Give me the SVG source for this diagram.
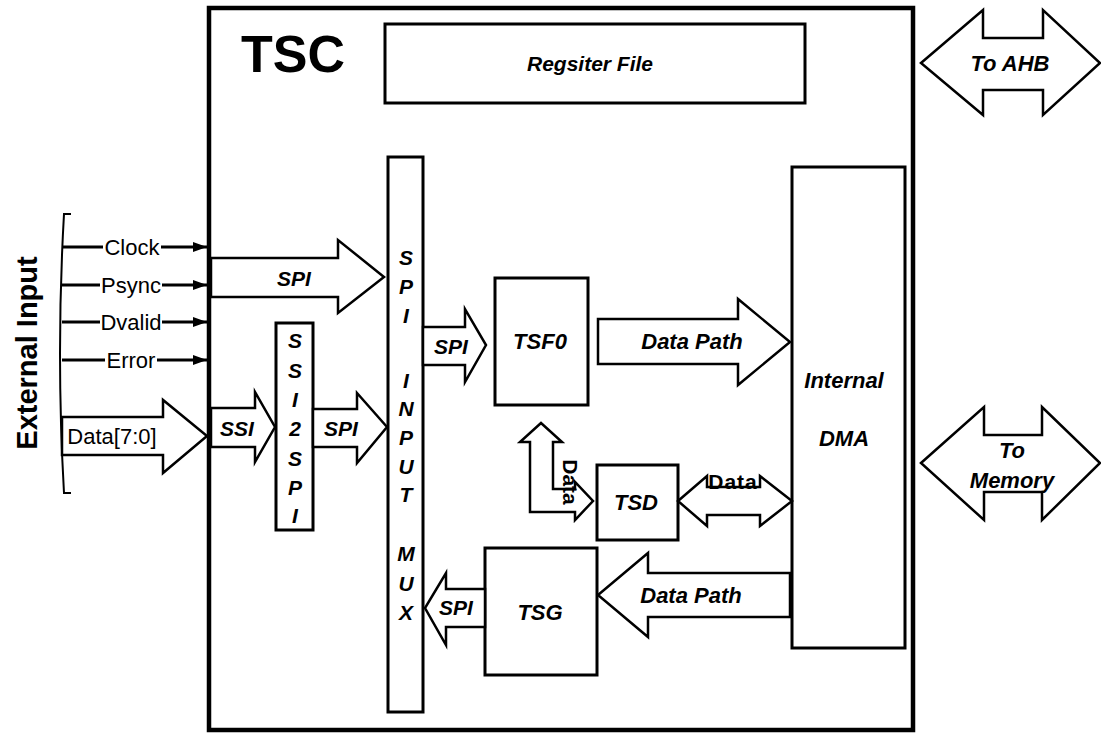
<svg xmlns="http://www.w3.org/2000/svg" width="1101" height="733" viewBox="0 0 1101 733">
<defs>
<style>
.box{fill:#fff;stroke:#000;stroke-width:3}
.arr{fill:#fff;stroke:#000;stroke-width:2.5;stroke-linejoin:miter}
.wire{stroke:#000;stroke-width:3;fill:none}
.t{font-family:"Liberation Sans",Arial,sans-serif;font-weight:bold;font-style:italic;font-size:21px;text-anchor:middle;dominant-baseline:central;fill:#000}
.s{font-family:"Liberation Sans",Arial,sans-serif;font-size:22px;text-anchor:middle;dominant-baseline:central;fill:#000}
.b{font-family:"Liberation Sans",Arial,sans-serif;font-weight:bold;font-size:21px;text-anchor:middle;dominant-baseline:central;fill:#000}
</style>
<marker id="ah" markerUnits="userSpaceOnUse" markerWidth="14" markerHeight="10" refX="14" refY="5" orient="auto">
<path d="M0,0 L14,5 L0,10 Z" fill="#000"/>
</marker>
</defs>
<rect width="1101" height="733" fill="#fff"/>

<g id="tsc">
<rect x="209" y="8" width="704" height="722" fill="none" stroke="#000" stroke-width="4.5"/>
<text x="293" y="54" style="font-family:'Liberation Sans',Arial,sans-serif;font-weight:bold;font-size:52px;text-anchor:middle;dominant-baseline:central">TSC</text>
</g>

<g id="register-file">
<rect class="box" x="385" y="24" width="420" height="79"/>
<text class="t" x="590" y="63">Regsiter File</text>
</g>

<g id="external-input">
<path d="M71,214 L64,214 Q56,353 64,493 L71,493" fill="none" stroke="#000" stroke-width="2"/>
<text transform="translate(37,353) rotate(-90)" style="font-family:'Liberation Sans',Arial,sans-serif;font-weight:bold;font-size:29px;text-anchor:middle">External Input</text>
<line class="wire" x1="62" y1="247" x2="103" y2="247"/>
<text class="s" x="132" y="247">Clock</text>
<line class="wire" x1="161" y1="247" x2="207" y2="247" marker-end="url(#ah)"/>
<line class="wire" x1="62" y1="285" x2="100" y2="285"/>
<text class="s" x="131" y="285">Psync</text>
<line class="wire" x1="162" y1="285" x2="207" y2="285" marker-end="url(#ah)"/>
<line class="wire" x1="62" y1="322" x2="100" y2="322"/>
<text class="s" x="131" y="322">Dvalid</text>
<line class="wire" x1="162" y1="322" x2="207" y2="322" marker-end="url(#ah)"/>
<line class="wire" x1="62" y1="360" x2="105" y2="360"/>
<text class="s" x="131" y="360">Error</text>
<line class="wire" x1="157" y1="360" x2="207" y2="360" marker-end="url(#ah)"/>
</g>

<g id="ssi2spi">
<rect class="box" x="276" y="323" width="37" height="207"/>
<text class="t" x="295" y="340">S</text>
<text class="t" x="295" y="370">S</text>
<text class="t" x="295" y="399">I</text>
<text class="t" x="295" y="428">2</text>
<text class="t" x="295" y="458">S</text>
<text class="t" x="295" y="487">P</text>
<text class="t" x="295" y="515">I</text>
</g>

<g id="spi-input-mux">
<rect class="box" x="388" y="157" width="35" height="555"/>
<text class="t" x="406" y="257">S</text>
<text class="t" x="406" y="286">P</text>
<text class="t" x="406" y="315">I</text>
<text class="t" x="406" y="380">I</text>
<text class="t" x="406" y="408">N</text>
<text class="t" x="406" y="437">P</text>
<text class="t" x="406" y="466">U</text>
<text class="t" x="406" y="494">T</text>
<text class="t" x="406" y="553">M</text>
<text class="t" x="406" y="583">U</text>
<text class="t" x="406" y="612">X</text>
</g>

<g id="tsf0">
<rect class="box" x="495" y="278" width="93" height="127"/>
<text class="t" x="540" y="341" style="font-size:22px">TSF0</text>
</g>

<g id="tsd">
<rect class="box" x="597" y="465" width="81" height="75"/>
<text class="t" x="636" y="502" style="font-size:22px">TSD</text>
</g>

<g id="tsg">
<rect class="box" x="485" y="548" width="112" height="127"/>
<text class="t" x="540" y="612" style="font-size:22px">TSG</text>
</g>

<g id="internal-dma">
<rect class="box" x="792" y="167" width="113" height="481"/>
<text class="t" x="844" y="380" style="font-size:22px">Internal</text>
<text class="t" x="844" y="438" style="font-size:22px">DMA</text>
</g>

<g id="connectors">
<polygon class="arr" points="211,258 338,258 338,240 384,277 338,313 338,297 211,297"/>
<text class="t" x="294" y="278">SPI</text>

<polygon class="arr" points="62,417 163,417 163,400 207,436 163,473 163,455 62,455"/>
<text class="s" x="112" y="436">Data[7:0]</text>

<polygon class="arr" points="211,408 255,408 255,392 275,427 255,462 255,447 211,447"/>
<text class="t" x="237" y="428">SSI</text>

<polygon class="arr" points="313,409 357,409 357,393 387,427 357,463 357,447 313,447"/>
<text class="t" x="341" y="428">SPI</text>

<polygon class="arr" points="423,327 465,327 465,309 486,345 465,382 465,365 423,365"/>
<text class="t" x="451" y="346">SPI</text>

<polygon class="arr" points="598,319 738,319 738,299 790,342 738,385 738,364 598,364"/>
<text class="t" x="692" y="341" style="font-size:22px">Data Path</text>

<polygon class="arr" points="790,573 648,573 648,553 598,595 648,637 648,617 790,617"/>
<text class="t" x="691" y="595" style="font-size:22px">Data Path</text>

<polygon class="arr" points="485,589 446,589 446,573 425,608 446,645 446,627 485,627"/>
<text class="t" x="456" y="607">SPI</text>

<polygon class="arr" points="541,423 562,442 553,442 553,489 575,489 575,482 593,501 575,520 575,512 530,512 530,442 520,442"/>
<text class="b" transform="translate(570,482) rotate(90)">Data</text>

<polygon class="arr" points="678,501 707,476 707,487 760,487 760,476 792,501 760,526 760,515 707,515 707,526"/>
<text class="b" x="733" y="481" style="letter-spacing:1px">Data</text>

<polygon class="arr" points="921,63 983,10 983,38 1043,38 1043,10 1100,63 1043,115 1043,90 983,90 983,115"/>
<text class="t" x="1010" y="63" style="font-size:22px">To AHB</text>

<polygon class="arr" points="921,463 984,407 984,435 1042,435 1042,407 1100,463 1042,520 1042,492 984,492 984,520"/>
<text class="t" x="1012" y="450" style="font-size:22px">To</text>
<text class="t" x="1012" y="480" style="font-size:22px">Memory</text>
</g>
</svg>
